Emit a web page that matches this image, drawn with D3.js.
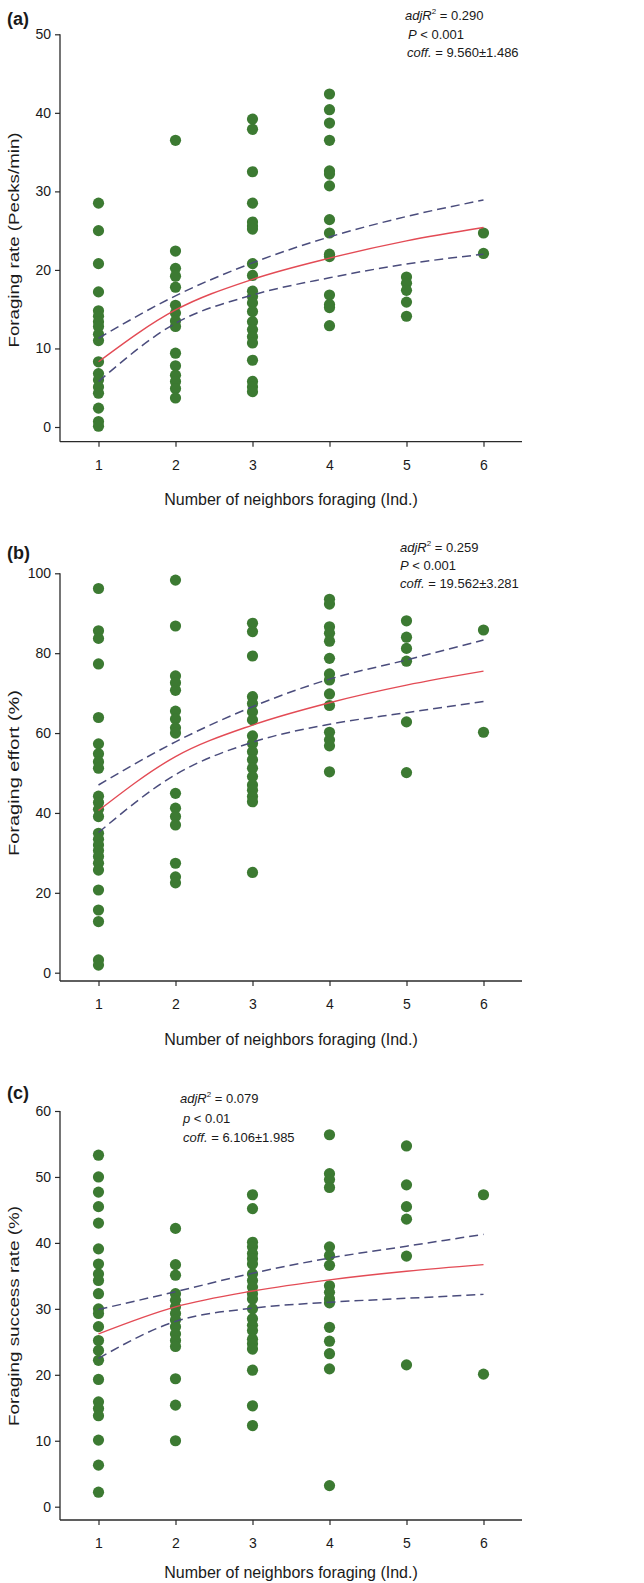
<!DOCTYPE html>
<html>
<head>
<meta charset="utf-8">
<script src="https://cdn.jsdelivr.net/npm/d3@7"></script>
<style>
  body { margin: 0; background: #fff; }
  svg { display: block; }
  text { font-family: Arial, "Liberation Sans", sans-serif; fill: #1a1a1a; }
</style>
</head>
<body>
<svg id="chart" width="644" height="1583"></svg>
<script>
// ---------- data ----------
const neighbors = [1, 2, 3, 4, 5, 6];

// (a) Foraging rate (Pecks/min), one array per number of neighbors
const rateValues = [
  [28.5, 25.0, 20.8, 17.2, 14.8, 14.1, 13.4, 12.8, 11.8, 11.0, 8.3, 6.8, 6.0, 5.1, 4.3, 2.4, 0.7, 0.1],
  [36.5, 22.4, 20.2, 19.2, 17.8, 15.5, 14.5, 13.5, 12.8, 9.4, 7.8, 6.6, 5.8, 4.9, 3.7],
  [39.2, 37.9, 32.5, 28.5, 26.1, 25.6, 25.2, 20.8, 19.3, 17.3, 16.6, 15.8, 14.7, 13.4, 12.4, 11.5, 10.7, 8.5, 5.8, 5.1, 4.5],
  [42.4, 40.4, 38.7, 36.5, 32.6, 32.2, 30.7, 26.4, 24.7, 22.0, 21.7, 16.8, 15.6, 15.2, 12.9],
  [19.1, 18.3, 17.4, 15.9, 14.1],
  [24.7, 22.1]
];
const rateFit   = [8.3, 14.9, 18.8, 21.5, 23.7, 25.4];
const rateUpper = [11.3, 16.7, 20.9, 24.2, 26.8, 28.9];
const rateLower = [5.8, 13.2, 16.8, 19.0, 20.75, 22.0];
const rateTicks = [0, 10, 20, 30, 40, 50];

// (b) Foraging effort (%)
const effortValues = [
  [96.2, 85.6, 83.7, 77.3, 63.9, 57.3, 54.8, 52.8, 51.2, 44.2, 42.6, 40.9, 39.1, 34.9, 33.4, 32.0, 30.6, 29.1, 27.4, 25.7, 20.7, 15.7, 12.8, 3.2, 1.9],
  [98.3, 86.8, 74.3, 72.6, 70.7, 65.5, 63.5, 61.3, 60.0, 44.9, 41.2, 39.1, 37.0, 27.4, 24.0, 22.5],
  [87.5, 85.4, 79.3, 69.1, 67.4, 65.3, 63.3, 59.3, 57.4, 55.3, 53.3, 51.2, 49.1, 47.0, 45.7, 44.1, 42.8, 25.1],
  [93.5, 92.3, 86.6, 85.0, 83.0, 78.7, 74.8, 73.3, 69.8, 66.9, 60.2, 58.3, 56.8, 50.3],
  [88.1, 84.0, 81.2, 78.0, 62.8, 50.1],
  [85.8, 60.2]
];
const effortFit   = [40.6, 54.1, 62.0, 67.6, 72.0, 75.5];
const effortUpper = [47.0, 57.8, 66.6, 73.5, 78.3, 83.3];
const effortLower = [35.1, 49.6, 57.7, 62.2, 65.1, 67.9];
const effortTicks = [0, 20, 40, 60, 80, 100];

// (c) Foraging success rate (%)
const successValues = [
  [53.3, 50.0, 47.7, 45.5, 43.0, 39.1, 36.8, 35.3, 34.3, 32.3, 30.0, 29.3, 27.3, 25.2, 23.7, 22.2, 19.3, 15.9, 14.9, 13.8, 10.1, 6.3, 2.2],
  [42.2, 36.7, 35.1, 32.3, 31.3, 30.3, 29.3, 28.3, 27.3, 26.2, 25.2, 24.3, 19.4, 15.4, 10.0],
  [47.3, 45.2, 40.1, 39.4, 38.4, 37.6, 36.8, 35.3, 34.3, 33.3, 32.3, 31.5, 30.0, 28.5, 27.5, 26.7, 25.4, 24.7, 23.9, 20.7, 15.3, 12.3],
  [56.4, 50.5, 49.6, 48.4, 39.4, 38.1, 36.6, 33.5, 32.5, 31.5, 30.9, 27.2, 25.1, 23.2, 20.9, 3.2],
  [54.7, 48.8, 45.5, 43.6, 38.0, 21.5],
  [47.3, 20.1]
];
const successFit   = [26.2, 30.3, 32.7, 34.4, 35.7, 36.7];
const successUpper = [29.9, 32.6, 35.4, 37.7, 39.5, 41.3];
const successLower = [22.5, 28.1, 30.1, 31.0, 31.6, 32.2];
const successTicks = [0, 10, 20, 30, 40, 50, 60];

const xTitle = "Number of neighbors foraging (Ind.)";

// ---------- drawing ----------
const svg = d3.select("#chart");
const GREEN = "#3c7a32", RED = "#e34b55", BLUE = "#4a4c7c", AXIS = "#2a2a2a";

function panel(cfg) {
  const g = svg.append("g");
  const x = d3.scaleLinear().domain([0.5, 6.5]).range([60, 522]);
  const y = d3.scaleLinear().domain([0, cfg.ymax]).range([cfg.y0, cfg.ytop]);
  const axisY = cfg.axisY;

  // axes
  const yAx = g.append("g").attr("transform", "translate(60,0)")
    .call(d3.axisLeft(y).tickValues(cfg.ticks).tickSize(5).tickPadding(4).tickFormat(d3.format("d")));
  yAx.select(".domain").remove();
  yAx.selectAll("line").attr("stroke", AXIS).attr("stroke-width", 1.2);
  yAx.selectAll("text").attr("font-size", 14).attr("fill", "#1a1a1a");
  g.append("line").attr("x1", 60).attr("x2", 60).attr("y1", y(cfg.ymax)).attr("y2", axisY)
    .attr("stroke", AXIS).attr("stroke-width", 1.3);

  const xAx = g.append("g").attr("transform", `translate(0,${axisY})`)
    .call(d3.axisBottom(x).tickValues(neighbors).tickSize(5).tickPadding(13).tickFormat(d3.format("d")));
  xAx.select(".domain").remove();
  xAx.selectAll("line").attr("stroke", AXIS).attr("stroke-width", 1.2);
  xAx.selectAll("text").attr("font-size", 14).attr("fill", "#1a1a1a");
  g.append("line").attr("x1", 60).attr("x2", 522).attr("y1", axisY).attr("y2", axisY)
    .attr("stroke", AXIS).attr("stroke-width", 1.3);

  // titles
  g.append("text").attr("x", x(3.5)).attr("y", cfg.xTitleY).attr("text-anchor", "middle")
    .attr("font-size", 16).text(xTitle);
  g.append("text").attr("transform", `translate(19,${cfg.yTitleC}) rotate(-90)`)
    .attr("text-anchor", "middle").attr("font-size", 15)
    .attr("textLength", cfg.yTitleLen).attr("lengthAdjust", "spacingAndGlyphs").text(cfg.yTitle);
  g.append("text").attr("x", 7).attr("y", cfg.labelY).attr("font-size", 18).attr("font-weight", "bold").text(cfg.label);

  // points
  const pts = [];
  cfg.values.forEach((col, i) => col.forEach(v => pts.push([neighbors[i], v])));
  g.append("g").selectAll("circle").data(pts).join("circle")
    .attr("cx", d => x(d[0])).attr("cy", d => y(d[1])).attr("r", 5.6).attr("fill", GREEN);

  // fit + CI lines
  const line = d3.line().x((d, i) => x(neighbors[i])).y(d => y(d)).curve(d3.curveMonotoneX);
  [cfg.upper, cfg.lower].forEach(arr => {
    g.append("path").attr("d", line(arr)).attr("fill", "none").attr("stroke", BLUE)
      .attr("stroke-width", 1.5).attr("stroke-dasharray", "9,5");
  });
  g.append("path").attr("d", line(cfg.fit)).attr("fill", "none").attr("stroke", RED).attr("stroke-width", 1.4);

  // annotation
  const ax = cfg.annot.x, ay = cfg.annot.y, lh = cfg.annot.lh, fs = 13;
  const t1 = g.append("text").attr("x", ax).attr("y", ay).attr("font-size", fs);
  t1.append("tspan").attr("font-style", "italic").text("adjR");
  t1.append("tspan").attr("font-size", 8).attr("dy", -6).text("2");
  t1.append("tspan").attr("dy", 6).text(" = " + cfg.annot.r2);
  const t2 = g.append("text").attr("x", ax + cfg.annot.dx2).attr("y", ay + lh).attr("font-size", fs);
  t2.append("tspan").attr("font-style", "italic").text(cfg.annot.pSym);
  t2.append("tspan").text(" < " + cfg.annot.p);
  const t3 = g.append("text").attr("x", ax + cfg.annot.dx3).attr("y", ay + 2 * lh).attr("font-size", fs);
  t3.append("tspan").attr("font-style", "italic").text("coff.");
  t3.append("tspan").text(" = " + cfg.annot.coff);
}

panel({
  values: rateValues, fit: rateFit, upper: rateUpper, lower: rateLower, ticks: rateTicks,
  ymax: 50, y0: 427, ytop: 34.3, axisY: 441.7, label: "(a)", labelY: 25,
  yTitle: "Foraging rate (Pecks/min)", yTitleC: 240, yTitleLen: 215, xTitleY: 505,
  annot: { x: 405, y: 20, lh: 18.5, dx2: 3, dx3: 2, r2: "0.290", pSym: "P", p: "0.001", coff: "9.560±1.486" }
});
panel({
  values: effortValues, fit: effortFit, upper: effortUpper, lower: effortLower, ticks: effortTicks,
  ymax: 100, y0: 972.7, ytop: 573.3, axisY: 981, label: "(b)", labelY: 559,
  yTitle: "Foraging effort (%)", yTitleC: 773, yTitleLen: 166, xTitleY: 1045,
  annot: { x: 400, y: 552, lh: 18, dx2: 0, dx3: 0, r2: "0.259", pSym: "P", p: "0.001", coff: "19.562±3.281" }
});
panel({
  values: successValues, fit: successFit, upper: successUpper, lower: successLower, ticks: successTicks,
  ymax: 60, y0: 1506.7, ytop: 1111, axisY: 1520, label: "(c)", labelY: 1099,
  yTitle: "Foraging success rate (%)", yTitleC: 1316, yTitleLen: 220, xTitleY: 1578,
  annot: { x: 180, y: 1103, lh: 19.5, dx2: 3, dx3: 3, r2: "0.079", pSym: "p", p: "0.01", coff: "6.106±1.985" }
});
</script>
</body>
</html>
